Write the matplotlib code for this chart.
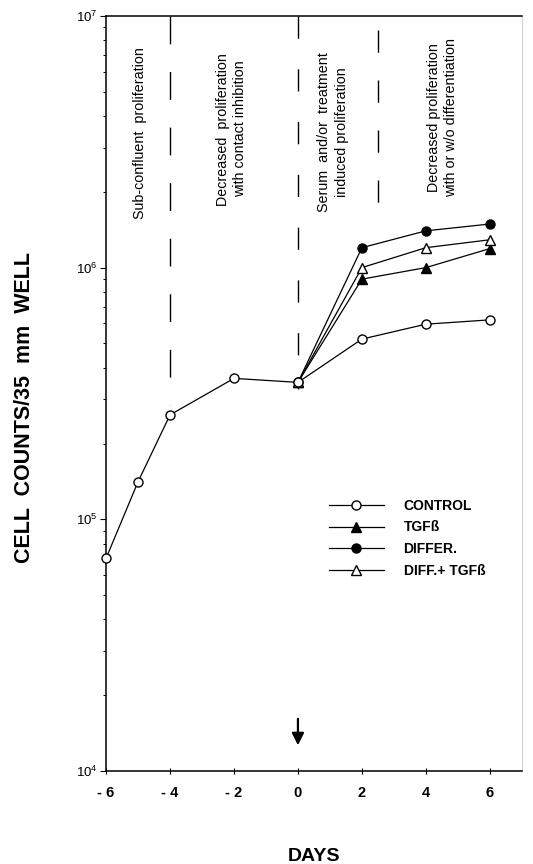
import numpy as np
import matplotlib
matplotlib.use('Agg')
import matplotlib.pyplot as plt
from matplotlib.ticker import LogLocator, NullFormatter

plt.rcParams['font.family'] = ['Liberation Sans', 'DejaVu Sans']

# ─── Data ──────────────────────────────────────────────────
days_control = [-6, -5, -4, -2, 0, 2, 4, 6]
control = [7.0e4, 1.41e5, 2.6e5, 3.63e5, 3.5e5, 5.2e5, 5.96e5, 6.2e5]

days_treat = [0, 2, 4, 6]
tgf = [3.5e5, 9.0e5, 1.0e6, 1.19e6]
differ = [3.5e5, 1.2e6, 1.40e6, 1.49e6]
diff_tgf = [3.5e5, 1.0e6, 1.2e6, 1.29e6]

phase_bounds = [-4, 0, 2.5]
phase_labels = ["Sub-confluent  proliferation",
                "Decreased  proliferation\nwith contact inhibition",
                "Serum  and/or  treatment\ninduced proliferation",
                "Decreased proliferation\nwith or w/o differentiation"]
phase_label_x = [-4.94, -2.07, 1.1, 4.53]
phase_label_y = [3.43e6, 3.55e6, 3.46e6, 3.93e6]

xticks = [-6, -4, -2, 0, 2, 4, 6]
xticklabels = ["- 6", "- 4", "- 2", "0", "2", "4", "6"]

# ─── Figure ───────────────────────────────────────────────
fig = plt.figure(figsize=(5.33, 8.64), dpi=100)
ax = fig.add_axes([0.199, 0.1076, 0.78, 0.874])
ax.set_yscale('log')
ax.set_xlim(-6, 7)
ax.set_ylim(1e4, 1e7)

ms = 6.5
ax.plot(days_control, control, '-o', color='black', lw=0.9, ms=ms,
        mfc='white', mec='black', mew=1.0, label='CONTROL', zorder=4,
        clip_on=False)
ax.plot(days_treat, tgf, '-^', color='black', lw=0.9, ms=ms,
        mfc='black', mec='black', label='TGFß', zorder=3)
ax.plot(days_treat, differ, '-o', color='black', lw=0.9, ms=ms,
        mfc='black', mec='black', label='DIFFER.', zorder=3)
ax.plot(days_treat, diff_tgf, '-^', color='black', lw=0.9, ms=ms,
        mfc='white', mec='black', mew=1.0, label='DIFF.+ TGFß', zorder=3)

# dashed phase boundaries
ax.plot([phase_bounds[0]] * 2, [1e7, 2.85e5], color='black', lw=1.0,
        dashes=(20, 20))
ax.plot([phase_bounds[1]] * 2, [1e7, 3.3e5], color='black', lw=1.0,
        dashes=(16, 22))
ax.plot([phase_bounds[2]] * 2, [8.8e6, 1.8e6], color='black', lw=1.0,
        dashes=(16, 20))

for xl, txt, yc in zip(phase_label_x, phase_labels, phase_label_y):
    ax.text(xl, yc, txt, rotation=90, ha='center', va='center',
            fontsize=10.3, linespacing=1.3, multialignment='center')

# arrow at day 0
ax.annotate('', xy=(0, 1.234e4), xytext=(0, 1.654e4),
            arrowprops=dict(arrowstyle='-|>', color='black', lw=1.6,
                            mutation_scale=18))

# ─── Axes styling ─────────────────────────────────────────
ax.set_xticks(xticks)
ax.set_xticklabels(xticklabels, fontsize=10.5, fontweight='bold')
ax.tick_params(axis='x', direction='inout', length=5, width=0.8, pad=8)
ax.yaxis.set_major_locator(LogLocator(base=10, numticks=5))
ax.yaxis.set_minor_locator(LogLocator(base=10, subs=np.arange(2, 10), numticks=20))
ax.yaxis.set_minor_formatter(NullFormatter())
ax.tick_params(axis='y', which='major', direction='out', length=4,
               width=0.8, labelsize=9.5, pad=2)
ax.tick_params(axis='y', which='minor', direction='out', length=2.5, width=0.7)

for s in ['left', 'bottom', 'top']:
    ax.spines[s].set_linewidth(1.1)
ax.spines['right'].set_linewidth(0.5)
ax.spines['right'].set_color('#bbbbbb')

ax.set_ylabel('CELL  COUNTS/35  mm  WELL', fontsize=15.5, fontweight='bold')
ax.yaxis.set_label_coords(-0.17, 0.482)
ax.set_xlabel('DAYS', fontsize=14, fontweight='bold', labelpad=35)

ax.legend(loc='upper left', bbox_to_anchor=(0.505, 0.377), frameon=False,
          handlelength=4.0, handletextpad=1.4, labelspacing=0.55,
          prop={'size': 10, 'weight': 'bold'}, markerscale=1.0)

fig.savefig('out.png', dpi=100)
